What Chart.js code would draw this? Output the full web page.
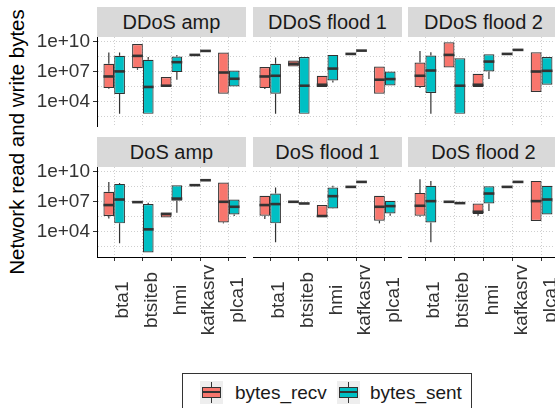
<!DOCTYPE html>
<html>
<head>
<meta charset="utf-8">
<script src="https://cdn.jsdelivr.net/npm/chart.js@4.4.0/dist/chart.umd.min.js"></script>
<style>
  html, body { margin: 0; padding: 0; background: #fff; overflow: hidden; width: 555px; height: 408px; }
  body { position: relative; font-family: "Liberation Sans", Arial, sans-serif; }
  canvas { position: absolute; }
  .strip { position: absolute; height: 30px; line-height: 30px; background: #d9d9d9; color: #1a1a1a; font-size: 20px; text-align: center; white-space: nowrap; overflow: hidden; }
  .ytitle { position: absolute; left: 17px; top: 142px; transform: translate(-50%, -50%) rotate(-90deg); white-space: nowrap; font-size: 20.5px; color: #000; }
  .legend { position: absolute; left: 182px; top: 373px; width: 288px; height: 45px; border: 1px solid #333; }
  .key { position: absolute; top: 7px; width: 23px; height: 23px; background: #eeeeee; }
  .key .wh { position: absolute; left: 11px; top: 1px; width: 1px; height: 21px; background: #333; }
  .key .bx { position: absolute; left: 2px; top: 6px; width: 17px; height: 9px; border: 1px solid #333; }
  .key .md { position: absolute; left: 2px; top: 10px; width: 19px; height: 2px; background: #333; }
  .lab { position: absolute; top: 7px; line-height: 23px; font-size: 19px; color: #1a1a1a; }
</style>
</head>
<body>
<div class="ytitle">Network read and write bytes</div>
<div class="legend">
  <div class="key" style="left:17px"><div class="wh"></div><div class="bx" style="background:#F8766D"></div><div class="md"></div></div>
  <div class="lab" style="left:52px">bytes_recv</div>
  <div class="key" style="left:154px"><div class="wh"></div><div class="bx" style="background:#00BFC4"></div><div class="md"></div></div>
  <div class="lab" style="left:187px">bytes_sent</div>
</div>
<script>
// categories
const facets = ['DDoS amp', 'DDoS flood 1', 'DDoS flood 2', 'DoS amp', 'DoS flood 1', 'DoS flood 2'];
const hosts = ['bta1', 'btsiteb', 'hmi', 'kafkasrv', 'plca1'];
const seriesNames = ['bytes_recv', 'bytes_sent'];
const seriesColors = ['#F8766D', '#00BFC4'];

// box stats per host: [min, q1, median, q3, max]
const ddosAmpRecv = [[2e5, 2.3e5, 3.4e6, 6.3e7, 8.5e8], [1.6e7, 2.3e7, 4e8, 6.3e9, 6.3e9], [3.4e5, 3.4e5, 4e5, 3e6, 3e6], [5e8, 5e8, 5e8, 5e8, 5e8], [6.3e4, 6.3e4, 8.5e6, 8.5e8, 8.5e8]];
const ddosAmpSent = [[5.9e2, 5.9e4, 1.1e7, 4e8, 8.5e8], [5.9e2, 5.9e2, 3e5, 1.6e8, 3e8], [1.6e6, 9.3e6, 9.3e7, 3.4e8, 5e8], [1.26e9, 1.26e9, 1.26e9, 1.26e9, 1.26e9], [3.4e5, 3.4e5, 2e6, 1.35e7, 1.35e7]];
const ddosFlood1Recv = [[1.9e5, 2.3e5, 3.4e6, 3e7, 3e7], [3.4e7, 3.4e7, 6.3e7, 1.35e8, 1.35e8], [3e5, 3e5, 5e5, 4e6, 4e6], [6.3e8, 6.3e8, 6.3e8, 6.3e8, 6.3e8], [6.3e4, 6.3e4, 1.6e6, 3.4e7, 3.4e7]];
const ddosFlood1Sent = [[5.9e2, 6.3e4, 4e6, 6.3e7, 2.7e8], [5.9e2, 5.9e2, 4e5, 3e8, 3e8], [8.5e5, 1.35e6, 2.1e7, 5e8, 5e8], [1.35e9, 1.35e9, 1.35e9, 1.35e9, 1.35e9], [4.3e5, 4.3e5, 1.86e6, 1.07e7, 1.07e7]];
const ddosFlood2Recv = [[2.3e5, 3e5, 4e6, 8.5e7, 1.26e9], [2.7e7, 2.7e7, 5e8, 9.3e9, 9.3e9], [3e5, 3e5, 5e5, 6.3e6, 6.3e6], [6.3e8, 6.3e8, 6.3e8, 6.3e8, 6.3e8], [9.3e4, 9.3e4, 1.07e7, 9.3e8, 9.3e8]];
const ddosFlood2Sent = [[5.9e2, 7.4e4, 1.35e7, 4.3e8, 9.3e8], [5.9e2, 5.9e2, 4e5, 2.3e8, 2.3e8], [1.86e6, 1.07e7, 1.07e8, 5.9e8, 5.9e8], [1.6e9, 1.6e9, 1.6e9, 1.6e9, 1.6e9], [5e5, 5e5, 1.26e7, 3e8, 3e8]];
const dosAmpRecv = [[2.1e5, 3.7e5, 4.7e6, 1e8, 1e9], [9.3e6, 9.3e6, 9.3e6, 9.3e6, 9.3e6], [2.7e5, 2.7e5, 5.9e5, 8.5e5, 8.5e5], [4.7e8, 4.7e8, 4.7e8, 4.7e8, 4.7e8], [6.8e4, 8.5e4, 1e7, 8.5e8, 8.5e8]];
const dosAmpSent = [[6.8e2, 6.8e4, 1.7e7, 6.3e8, 7.9e8], [79, 79, 1.7e4, 5.9e6, 7.9e6], [7.9e5, 1.26e7, 2.1e7, 4.7e8, 4.7e8], [1.48e9, 1.48e9, 1.48e9, 1.48e9, 1.48e9], [3.7e5, 5.4e5, 3.16e6, 1.7e7, 1.7e7]];
const dosFlood1Recv = [[1.9e5, 4e5, 4.7e6, 4e7, 4e7], [1e7, 1e7, 1e7, 1e7, 1e7], [3.16e5, 3.16e5, 3.7e5, 4.7e6, 4.7e6], [3.16e8, 3.16e8, 3.16e8, 3.16e8, 3.16e8], [6.8e4, 1.26e5, 3.16e6, 4e7, 4e7]];
const dosFlood1Sent = [[8.5e2, 6.8e4, 5.9e6, 6.8e7, 2.7e8], [6.3e6, 6.3e6, 6.8e6, 7.4e6, 7.4e6], [2e6, 2.14e6, 3.7e7, 2.7e8, 4e8], [1e9, 1e9, 1e9, 1e9, 1e9], [4e5, 6.8e5, 3.7e6, 1.26e7, 1.26e7]];
const dosFlood2Recv = [[3.16e5, 4e5, 4e6, 7.9e7, 1.86e9], [1e7, 1e7, 1e7, 1e7, 1e7], [4e5, 5.9e5, 1e6, 6.8e6, 6.8e6], [3.16e8, 3.16e8, 3.16e8, 3.16e8, 3.16e8], [1.17e5, 1.17e5, 1.17e7, 1.26e9, 1.26e9]];
const dosFlood2Sent = [[8.5e2, 8.5e4, 1.17e7, 4e8, 1.26e9], [7.4e6, 7.4e6, 7.4e6, 7.4e6, 7.4e6], [1.17e6, 6.8e6, 6.8e7, 3.7e8, 3.7e8], [1e9, 1e9, 1e9, 1e9, 1e9], [5.4e5, 5.4e5, 1.7e7, 4e8, 4e8]];

const panelStats = [
  [ddosAmpRecv, ddosAmpSent], [ddosFlood1Recv, ddosFlood1Sent], [ddosFlood2Recv, ddosFlood2Sent],
  [dosAmpRecv, dosAmpSent], [dosFlood1Recv, dosFlood1Sent], [dosFlood2Recv, dosFlood2Sent]
];

// y axis (log10)
const yTickValues = [1e4, 1e7, 1e10];
const yTickLabels = ['1e+04', '1e+07', '1e+10'];
const yMinorBreaks = [316.2, 3.162e5, 3.162e8];
const yMin = 28.2, yMax = 3.162e10;

// layout of the facet grid
const panelX = [97, 253, 408];
const panelW = [149, 149, 151];
const panelY = [37, 167];
const plotH = 90;
const topSpace = 14;
const stripTop = [7, 137];
const labelFont = { family: '"Liberation Sans", Arial, sans-serif', size: 19 };

function makePanel(idx) {
  const row = Math.floor(idx / 3), col = idx % 3;
  const leftSpace = col === 0 ? 97 : 0;
  const bottomSpace = row === 1 ? 100 : 0;
  const stats = panelStats[idx];

  const strip = document.createElement('div');
  strip.className = 'strip';
  strip.style.left = panelX[col] + 'px';
  strip.style.top = stripTop[row] + 'px';
  strip.style.width = panelW[col] + 'px';
  strip.textContent = facets[idx];
  document.body.appendChild(strip);

  const cv = document.createElement('canvas');
  cv.width = panelW[col] + leftSpace;
  cv.height = plotH + bottomSpace + topSpace;
  cv.style.left = (panelX[col] - leftSpace) + 'px';
  cv.style.top = (panelY[row] - topSpace) + 'px';
  document.body.appendChild(cv);

  // whiskers + medians on top of the floating bars
  const boxPlugin = {
    id: 'boxes',
    afterDatasetsDraw(chart) {
      const ctx = chart.ctx, ys = chart.scales.y;
      ctx.save();
      ctx.strokeStyle = '#333';
      stats.forEach((rows, s) => {
        const meta = chart.getDatasetMeta(s);
        rows.forEach((b, i) => {
          const bar = meta.data[i];
          const x = bar.x, hw = bar.width / 2;
          ctx.lineWidth = 1.2;
          ctx.beginPath();
          ctx.moveTo(x, ys.getPixelForValue(b[3]));
          ctx.lineTo(x, ys.getPixelForValue(b[4]));
          ctx.moveTo(x, ys.getPixelForValue(b[1]));
          ctx.lineTo(x, ys.getPixelForValue(b[0]));
          ctx.stroke();
          ctx.lineWidth = 2.6;
          const m = ys.getPixelForValue(b[2]);
          ctx.beginPath();
          ctx.moveTo(x - hw, m);
          ctx.lineTo(x + hw, m);
          ctx.stroke();
        });
      });
      ctx.restore();
    }
  };

  // rotated host names under the bottom row
  const xLabelPlugin = {
    id: 'xlabels',
    afterDraw(chart) {
      if (row !== 1) return;
      const ctx = chart.ctx, xs = chart.scales.x;
      ctx.save();
      ctx.fillStyle = '#333';
      ctx.font = labelFont.size + 'px ' + labelFont.family;
      ctx.textAlign = 'center';
      ctx.textBaseline = 'alphabetic';
      hosts.forEach((h, i) => {
        ctx.save();
        ctx.translate(xs.getPixelForValue(i + 1) + 14, 300 - panelY[row] + topSpace);
        ctx.rotate(-Math.PI / 2);
        ctx.fillText(h, 0, 0);
        ctx.restore();
      });
      ctx.restore();
    }
  };

  new Chart(cv, {
    type: 'bar',
    data: {
      datasets: seriesNames.map((name, s) => ({
        label: name,
        data: stats[s].map((b, i) => ({ x: i + 1, y: [b[1], b[3]] })),
        backgroundColor: seriesColors[s],
        borderColor: '#333',
        borderWidth: 1.2,
        borderSkipped: false,
        categoryPercentage: 0.75,
        barPercentage: 1
      }))
    },
    options: {
      responsive: false,
      animation: false,
      events: [],
      layout: { padding: { top: topSpace, left: 0, right: 0, bottom: 0 } },
      plugins: {
        legend: { display: false },
        tooltip: { enabled: false },
        title: { display: false }
      },
      scales: {
        x: {
          type: 'linear',
          min: 0.4,
          max: 5.6,
          offset: false,
          afterBuildTicks: s => { s.ticks = hosts.map((h, i) => ({ value: i + 1 })); },
          afterFit: s => { s.height = bottomSpace; s.paddingLeft = 0; s.paddingRight = 0; },
          ticks: { display: false },
          grid: {
            offset: false,
            color: '#cfcfcf',
            lineWidth: 1,
            drawTicks: row === 1,
            tickLength: 4,
            tickColor: '#333',
            tickWidth: 1
          },
          border: { display: row === 1, color: '#000', width: 1, dash: [1, 2] }
        },
        y: {
          type: 'logarithmic',
          min: yMin,
          max: yMax,
          afterBuildTicks: s => {
            s.ticks = yMinorBreaks.concat(yTickValues).sort((a, b) => a - b).map(v => ({ value: v }));
          },
          afterFit: s => { s.width = leftSpace; s.paddingTop = 0; s.paddingBottom = 0; },
          ticks: {
            display: col === 0,
            autoSkip: false,
            padding: 3,
            color: '#333',
            font: labelFont,
            callback: v => {
              const k = yTickValues.indexOf(v);
              return k < 0 ? '' : yTickLabels[k];
            }
          },
          grid: {
            color: '#cfcfcf',
            lineWidth: 1,
            drawTicks: col === 0,
            tickLength: 4,
            tickWidth: 1,
            tickColor: c => yTickValues.includes(c.tick && c.tick.value) ? '#333' : 'rgba(0,0,0,0)'
          },
          border: { display: col === 0, color: '#000', width: 1, dash: [1, 2] }
        }
      }
    },
    plugins: [boxPlugin, xLabelPlugin]
  });
}

facets.forEach((f, i) => makePanel(i));
</script>
</body>
</html>
